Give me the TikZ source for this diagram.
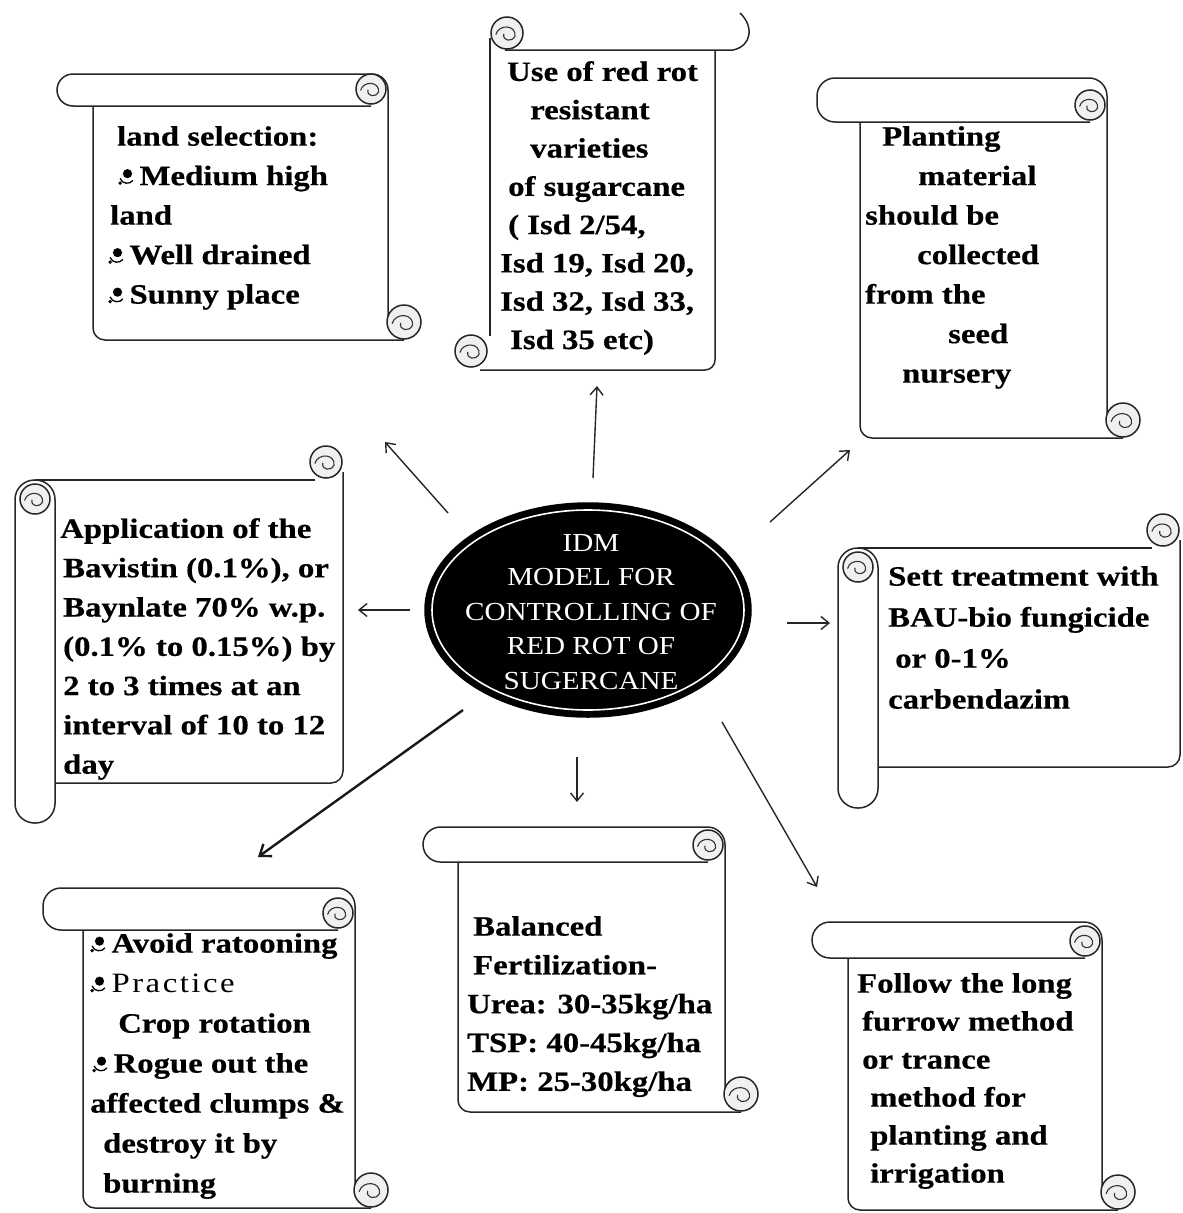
\documentclass[tikz,border=0pt]{standalone}
\usepackage{fontspec}
\setmainfont{Liberation Serif}
\newfontfamily\scrfont[FakeStretch=1.17,BoldFeatures={FakeBold=0.5}]{Liberation Serif}
\newfontfamily\ctrfont[FakeStretch=1.12]{Liberation Serif}
\usetikzlibrary{shapes.geometric,arrows.meta}

\newcommand\bul{\tikz[baseline=0pt,x=1.35pt,y=1.35pt,line width=1.3pt]{\fill (1,8.5) circle (4.6pt); \draw (-4.5,5) .. controls (-3,0.5) and (3,0.5) .. (5,3.5); \fill (-4.5,1.5) circle (1.9pt);}\hspace{6pt}}

\newcommand\mycurl[3]{%
  \filldraw[ln,fill=black!6] (#1,#2) circle (#3pt);
  \draw[line width=1.1pt,black!80] (#1-0.7*#3,#2+0.1*#3) .. controls (#1-0.5*#3,#2-0.6*#3) and (#1+0.6*#3,#2-0.5*#3) .. (#1+0.5*#3,#2+0.2*#3) .. controls (#1+0.3*#3,#2+0.6*#3) and (#1-0.3*#3,#2+0.5*#3) .. (#1-0.2*#3,#2+0.05*#3);
}

% horizontal scroll: xL yT yB R xS yS
\newcommand\hscrollshape[6]{%
  \pgfmathsetmacro\hsh{min((#3-#2)/2,18)}%
  \pgfmathsetmacro\cxa{#4-17}\pgfmathsetmacro\cya{#3-17}%
  \pgfmathsetmacro\cxb{#4+16}\pgfmathsetmacro\cyb{#6-18}%
  \draw[ln,rounded corners=12pt] (#5,#3) -- (#5,#6) -- (\cxb,#6);
  \draw[ln,rounded corners=\hsh pt] (\cxa,#3) -- (#1,#3) -- (#1,#2) -- (#4,#2) -- (#4,\cyb);
  \mycurl{\cxa}{\cya}{15}
  \mycurl{\cxb}{\cyb}{17}
}

% vertical scroll: xa xb yt yb ysb xr
\newcommand\vscrollshape[6]{%
  \pgfmathsetmacro\xc{(#1+#2)/2}%
  \draw[ln] (\xc,#3) -- (#6-28,#3);
  \draw[ln,rounded corners=12pt] (#6,#3-8) -- (#6,#5) -- (#2,#5);
  \mycurl{#6-17}{#3-18}{16}
  \filldraw[ln,fill=white,rounded corners=19.5pt] (#1,#3) rectangle (#2,#4);
  \mycurl{\xc}{#3+19}{15}
}

\begin{document}
\begin{tikzpicture}[x=1pt,y=-1pt,
  ln/.style={line width=1.5pt,draw=black!85},
  arr/.style={line width=1.4pt,draw=black!85,-{Straight Barb[length=8pt,width=13pt,line width=1.4pt]}},
  arrb/.style={line width=2.4pt,draw=black!90,-{Straight Barb[length=10pt,width=15pt,line width=2.4pt]}},
  txt/.style={anchor=north west,inner sep=0pt,align=left,text=black,
    font=\scrfont\bfseries\fontsize{28}{#1}\selectfont}]

\useasboundingbox (0,0) rectangle (1183,1213);

% ---------- scroll outlines ----------
\hscrollshape{57}{74}{106}{388}{93}{340}
\hscrollshape{817}{78}{122}{1107}{860}{438}
\hscrollshape{43}{888}{930}{355}{83}{1208}
\hscrollshape{423}{827}{862}{725}{458}{1112}
\hscrollshape{812}{922}{958}{1102}{848}{1210}
\vscrollshape{15}{55}{480}{823}{783}{343}
\vscrollshape{838}{878}{548}{808}{767}{1180}

% top centre scroll
\draw[ln] (490,38) -- (490,336);
\draw[ln] (505,50) -- (733,50) .. controls (752,46) and (754,26) .. (740,13);
\draw[ln,rounded corners=10pt] (715,50) -- (715,370) -- (480,370);
\mycurl{507}{33}{16}
\mycurl{471}{351}{16}

% ---------- texts ----------
\node[txt=39.5] (t1) at (108,126) {\hspace*{9pt}land selection:\\
\hspace*{10pt}\bul Medium high\\
\hspace*{2pt}land\\
\bul Well drained\\
\bul Sunny place};

\node[txt=38.3] (t2) at (500,61) {\hspace*{7pt}Use of red rot\\
\hspace*{30pt}resistant\\
\hspace*{30pt}varieties\\
\hspace*{8pt}of sugarcane\\
\hspace*{8pt}( Isd 2/54,\\
Isd 19, Isd 20,\\
Isd 32, Isd 33,\\
\hspace*{10pt}Isd 35 etc)};

\node[txt=39.5] (t3) at (865,126) {\hspace*{17pt}Planting\\
\hspace*{53pt}material\\
should be\\
\hspace*{52pt}collected\\
from the\\
\hspace*{83pt}seed\\
\hspace*{37pt}nursery};

\node[txt=39.3] (t4) at (60,518) {Application of the\\
\hspace*{3pt}Bavistin (0.1\%), or\\
\hspace*{3pt}Baynlate 70\% w.p.\\
\hspace*{3pt}(0.1\% to 0.15\%) by\\
\hspace*{3pt}2 to 3 times at an\\
\hspace*{3pt}interval of 10 to 12\\
\hspace*{3pt}day};

\node[txt=41] (t5) at (888,566) {Sett treatment with\\
BAU-bio fungicide\\
\hspace*{7pt}or 0-1\%\\
carbendazim};

\node[txt=40] (t6) at (90,933) {\bul Avoid ratooning\\
\bul{\mdseries\addfontfeatures{LetterSpace=9}Practice}\\
\hspace*{28pt}Crop rotation\\
\hspace*{2pt}\bul Rogue out the\\
affected clumps \&\\
\hspace*{13pt}destroy it by\\
\hspace*{13pt}burning};

\node[txt=38.8] (t7) at (467,916) {\hspace*{6pt}Balanced\\
\hspace*{6pt}Fertilization-\\
Urea: 30-35kg/ha\\
TSP: 40-45kg/ha\\
MP: 25-30kg/ha};

\node[txt=38] (t8) at (857,973) {Follow the long\\
\hspace*{5pt}furrow method\\
\hspace*{5pt}or trance\\
\hspace*{13pt}method for\\
\hspace*{13pt}planting and\\
\hspace*{13pt}irrigation};

% ---------- centre ----------
\node[ellipse,fill=black,draw=black,line width=1.5pt,minimum width=326pt,minimum height=214pt,inner sep=0pt] (c) at (588,610) {};
\draw[white,line width=1.6pt] (c.center) ellipse (156pt and 100pt);
\node[text=white,align=center,inner sep=0pt,font=\ctrfont\fontsize{26}{34.5}\selectfont] (ct) at (591,612)
  {IDM\\MODEL FOR\\CONTROLLING OF\\RED ROT OF\\SUGERCANE};

% ---------- connectors ----------
\coordinate (s1) at (448,513); \coordinate (e1) at (385,442);
\coordinate (s2) at (593,478); \coordinate (e2) at (597,386);
\coordinate (s3) at (770,522); \coordinate (e3) at (850,450);
\coordinate (s4) at (410,610); \coordinate (e4) at (358,610);
\coordinate (s5) at (787,623); \coordinate (e5) at (830,623);
\coordinate (s6) at (463,710); \coordinate (e6) at (258,857);
\coordinate (s7) at (577,757); \coordinate (e7) at (577,802);
\coordinate (s8) at (722,722); \coordinate (e8) at (817,887);

\draw[arr] (s1) -- (e1);
\draw[arr] (s2) -- (e2);
\draw[arr] (s3) -- (e3);
\draw[arr] (s4) -- (e4);
\draw[arr] (s5) -- (e5);
\draw[arrb] (s6) -- (e6);
\draw[arr] (s7) -- (e7);
\draw[arr] (s8) -- (e8);
\end{tikzpicture}
\end{document}
